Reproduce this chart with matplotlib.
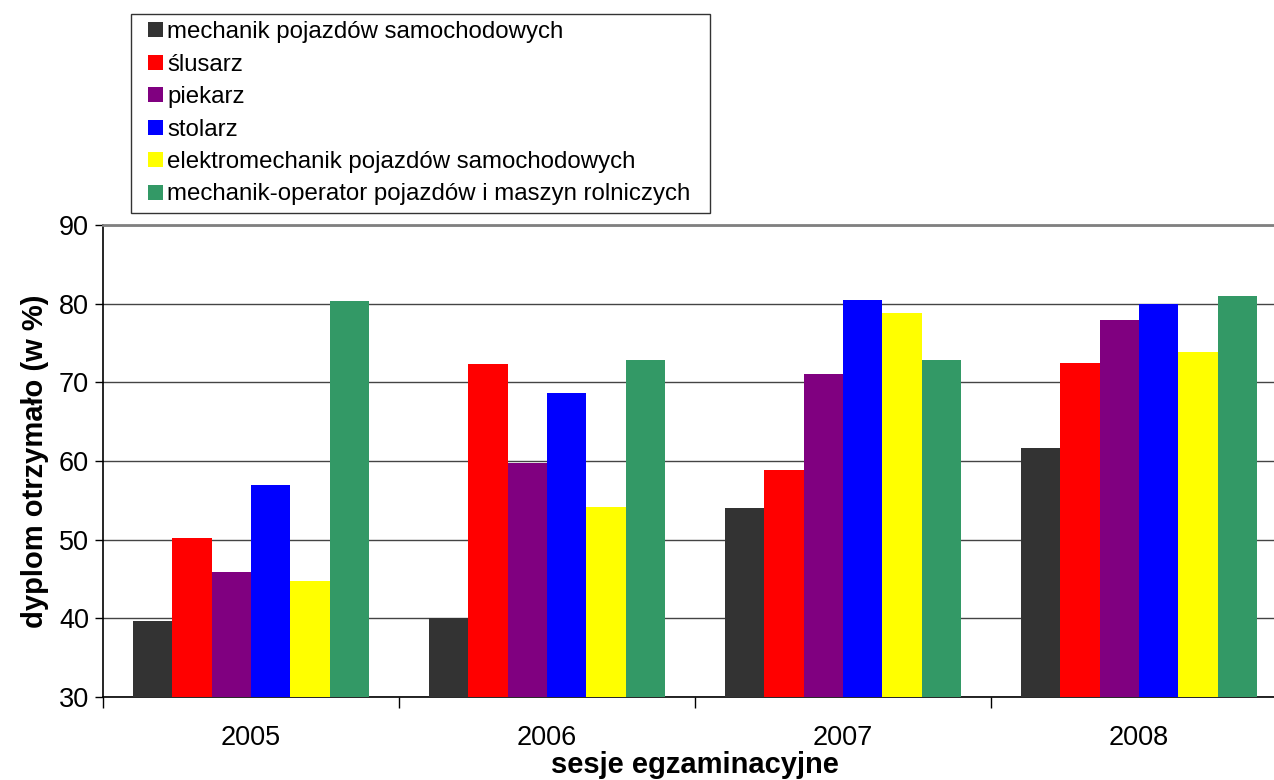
import matplotlib
matplotlib.use("Agg")
import matplotlib.pyplot as plt
import matplotlib.patches as mpatches
from matplotlib.legend_handler import HandlerPatch
import numpy as np

plt.rcParams['font.family'] = ['Liberation Sans', 'DejaVu Sans']

years = ["2005", "2006", "2007", "2008"]
series_names = [
    "mechanik pojazdów samochodowych",
    "ślusarz",
    "piekarz",
    "stolarz",
    "elektromechanik pojazdów samochodowych",
    "mechanik-operator pojazdów i maszyn rolniczych",
]
mechanik = [39.6, 40.0, 54.0, 61.7]
slusarz = [50.2, 72.3, 58.8, 72.4]
piekarz = [45.9, 59.8, 71.1, 77.9]
stolarz = [57.0, 68.7, 80.5, 79.9]
elektromechanik = [44.7, 54.2, 78.8, 73.9]
mech_operator = [80.3, 72.8, 72.9, 81.0]
values = [mechanik, slusarz, piekarz, stolarz, elektromechanik, mech_operator]
colors = ["#333333", "#FF0000", "#800080", "#0000FF", "#FFFF00", "#339966"]

fig = plt.figure(figsize=(12.74, 7.80), dpi=100)
W, H = 1274, 780
left, right, top, bottom = 103, 1287, 225, 697
ax = fig.add_axes([left / W, 1 - bottom / H, (right - left) / W, (bottom - top) / H])

n = len(values)
group = 0.8
bw = group / n
x = np.arange(len(years))
for i, (vals, c, name) in enumerate(zip(values, colors, series_names)):
    offs = -group / 2 + bw * (i + 0.5)
    ax.bar(x + offs, np.array(vals) - 30, bottom=30, width=bw, color=c,
           label=name, linewidth=0, zorder=3)

ax.set_xlim(-0.5, len(years) - 0.5)
ax.set_ylim(30, 90)
ax.set_yticks(range(30, 91, 10))
ax.yaxis.grid(True, color="#444444", linewidth=1.0, zorder=0)
ax.set_axisbelow(True)

ax.set_xticks(np.arange(-0.5, len(years), 1.0))
ax.set_xticklabels([])
ax.set_xticks(x, minor=True)
ax.set_xticklabels(years, minor=True)
ax.tick_params(axis='x', which='major', direction='out', length=8, width=1, color='black')
ax.tick_params(axis='x', which='minor', length=0, pad=20, labelsize=19.5)
ax.tick_params(axis='y', direction='out', length=6, width=1, labelsize=19.5, pad=4)

ax.spines['right'].set_visible(False)
ax.spines['top'].set_color('#808080')
ax.spines['top'].set_linewidth(2)
ax.spines['left'].set_color('black')
ax.spines['left'].set_linewidth(1.2)
ax.spines['bottom'].set_color('black')
ax.spines['bottom'].set_linewidth(1.2)

ax.set_ylabel("dyplom otrzymało (w %)", fontsize=21, fontweight='bold', labelpad=7)
ax.set_xlabel("sesje egzaminacyjne", fontsize=21, fontweight='bold', labelpad=0)


class SquareRight(HandlerPatch):
    def create_artists(self, legend, orig_handle, xdescent, ydescent,
                       width, height, fontsize, trans):
        side = 15.0 * 72.0 / fig.dpi
        p = mpatches.Rectangle((-xdescent + width - side, -ydescent + (height - side) / 2),
                               side, side, facecolor=orig_handle.get_facecolor(),
                               edgecolor='none', transform=trans)
        return [p]


proxies = [mpatches.Rectangle((0, 0), 1, 1, facecolor=c, edgecolor='none') for c in colors]
leg = fig.legend(proxies, series_names, loc='upper left',
                 bbox_to_anchor=(131 / W, 1 - 212 / H, (710 - 131) / W, 198 / H),
                 mode='expand',
                 fontsize=17.3, frameon=True, fancybox=False, shadow=False,
                 handlelength=1.05, handleheight=0.62, handletextpad=0.15,
                 labelspacing=0.435, borderpad=0.3, borderaxespad=0,
                 handler_map={mpatches.Rectangle: SquareRight()})
leg.get_frame().set_edgecolor('black')
leg.get_frame().set_linewidth(1.0)

fig.savefig("out.png", dpi=100)
